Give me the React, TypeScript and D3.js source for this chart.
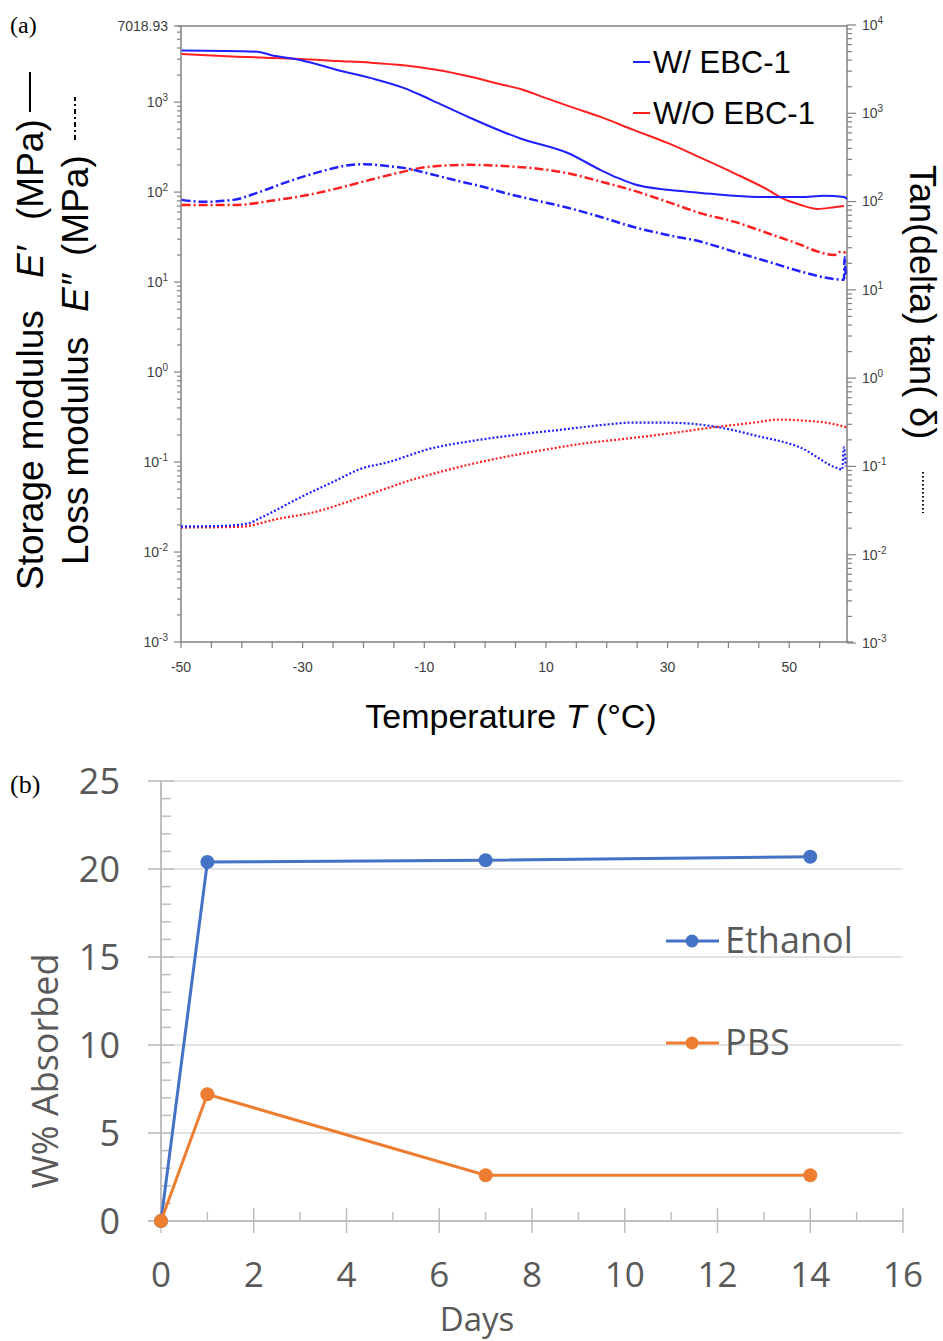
import React from 'react'
import * as d3 from 'd3'

// (a) DMA temperature sweep
// storage modulus E' (MPa)
const storageWithT = [-49.9, -37.5, -35.3, -29.9, -24.3, -18.9, -13.4, -10.6, -7.8, -2.4, 3.0, 5.8, 13.6, 19.0, 21.8, 24.4, 30.0, 35.5, 40.9, 46.5, 51.9, 55.7, 59.0, 59.5]
const storageWith = [3740, 3640, 3350, 2890, 2280, 1860, 1440, 1200, 980, 667, 466, 395, 272, 176, 144, 123, 106, 98, 91, 88, 88, 91, 88, 84]
const storageWithoutT = [-49.9, -40.8, -35.3, -30.4, -24.3, -18.9, -13.4, -7.8, -2.4, 3.0, 5.8, 9.9, 14.1, 19.0, 24.4, 30.0, 35.5, 40.9, 46.5, 49.1, 51.9, 54.7, 57.4, 59.0]
const storageWithout = [3435, 3205, 3100, 3020, 2870, 2750, 2570, 2280, 1920, 1552, 1402, 1114, 885, 685, 491, 352, 240, 163, 106, 84, 72, 65, 68, 70]

// loss modulus E'' (MPa)
const lossWithT = [-49.9, -46.3, -41.4, -37.5, -32.5, -27.1, -23.3, -20.0, -16.1, -13.4, -9.0, -5.2, 0.4, 2.5, 8.0, 13.6, 19.0, 24.4, 30.0, 35.5, 40.9, 46.5, 51.9, 57.4, 59.0, 59.1, 59.3]
const lossWith = [82, 78, 82, 98, 130, 169, 195, 204, 195, 186, 159, 137, 111, 101, 82, 67, 53, 41, 33.4, 28.1, 21.8, 16.9, 13.1, 10.8, 10.6, 19, 11]
const lossWithoutT = [-49.9, -40.8, -35.3, -29.9, -24.3, -18.9, -13.4, -10.6, -7.8, -2.4, 3.0, 8.0, 13.6, 19.0, 24.4, 30.0, 35.5, 40.9, 46.5, 51.9, 54.7, 57.4, 58.5, 59.3]
const lossWithout = [72, 72, 80, 91, 110, 137, 169, 186, 195, 201, 195, 184, 162, 131, 104, 78, 58, 47, 34.9, 25.9, 21.8, 20.0, 21.8, 21.1]

// tan(delta), right axis
const tanWithT = [-50, -43.2, -39.0, -36.8, -30.4, -24.6, -20.4, -16.1, -9.0, -1.8, 5.3, 12.6, 19.7, 23.9, 29.5, 33.8, 39.6, 44.5, 51.8, 58.0, 58.7, 59.0, 59.3]
const tanWith = [0.0209, 0.0212, 0.0226, 0.0264, 0.0445, 0.0689, 0.0942, 0.111, 0.159, 0.196, 0.229, 0.261, 0.297, 0.313, 0.313, 0.305, 0.268, 0.223, 0.164, 0.095, 0.092, 0.165, 0.1]
const tanWithoutT = [-50, -40.4, -34.0, -28.3, -19.7, -12.5, -5.4, 1.7, 9.0, 16.0, 23.1, 30.4, 37.4, 44.5, 48.1, 52.4, 56.7, 59.5]
const tanWithout = [0.0203, 0.0207, 0.0255, 0.0301, 0.0466, 0.0689, 0.0942, 0.122, 0.151, 0.181, 0.206, 0.237, 0.277, 0.315, 0.339, 0.330, 0.308, 0.277]

const tempLabels = [-50, -30, -10, 10, 30, 50]

// (b) solvent uptake
const days = [0, 1, 7, 14]
const ethanol = [0, 20.4, 20.5, 20.7]
const pbs = [0, 7.2, 2.6, 2.6]

const BLUE = '#1f1fff'
const RED = '#ff1f1f'
const ARIAL = '"Liberation Sans", Arial, sans-serif'
const SOFT = '"Open Sans", sans-serif'

const zip = (t: number[], v: number[]) => t.map((d, i) => [d, v[i]] as [number, number])

function Pow({ x, y, exp, anchor }: { x: number; y: number; exp: number; anchor: string }) {
  return (
    <text x={x} y={y} dy="0.35em" textAnchor={anchor} fontSize={14} fill="#404040" fontFamily={ARIAL}>
      10<tspan dy={-6} fontSize={10}>{exp}</tspan>
    </text>
  )
}

export default function App() {
  // --- panel (a) scales
  const xA = d3.scaleLinear().domain([-50, 59.5]).range([181, 847])
  const yL = d3.scaleLog().domain([1e-3, 7018.93]).range([642, 26])
  const yR = d3.scaleLog().domain([1e-3, 1e4]).range([643, 25])

  const lineL = d3.line<[number, number]>().x(d => xA(d[0])).y(d => yL(d[1])).curve(d3.curveMonotoneX)
  const lineR = d3.line<[number, number]>().x(d => xA(d[0])).y(d => yR(d[1])).curve(d3.curveMonotoneX)

  const leftTicks: number[] = []
  const rightTicks: number[] = []
  for (let k = -3; k <= 3; k++) {
    for (let m = 1; m <= 9; m++) {
      const v = m * Math.pow(10, k)
      if (v <= 7018.93) leftTicks.push(v)
      rightTicks.push(v)
    }
  }
  rightTicks.push(1e4)
  const isDecade = (v: number) => Math.abs(Math.log10(v) - Math.round(Math.log10(v))) < 1e-9

  // --- panel (b) scales
  const xB = d3.scaleLinear().domain([0, 16]).range([161, 903])
  const yB = d3.scaleLinear().domain([0, 25]).range([1221, 781])
  const lineB = d3.line<[number, number]>().x(d => xB(d[0])).y(d => yB(d[1]))

  const axisGray = '#808080'

  return (
    <svg width={943} height={1341} style={{ position: 'absolute', left: 0, top: 0, background: 'white' }}>
      {/* ================= (a) ================= */}
      <text x={10} y={33} fontSize={24} fontFamily='"Liberation Serif", "Times New Roman", serif'>(a)</text>

      {/* frame */}
      <line x1={181} x2={847} y1={26} y2={26} stroke={axisGray} strokeWidth={1.5} />
      <line x1={181} x2={181} y1={26} y2={642} stroke={axisGray} strokeWidth={1.5} />
      <line x1={847} x2={847} y1={25} y2={643} stroke={axisGray} strokeWidth={1.5} />
      <line x1={181} x2={853} y1={642} y2={642} stroke={axisGray} strokeWidth={1.5} />

      {/* left log ticks */}
      {leftTicks.map(v => (
        <line key={'lt' + v} x1={181 - (isDecade(v) ? 7 : 4)} x2={181} y1={yL(v)} y2={yL(v)} stroke={axisGray} strokeWidth={1.2} />
      ))}
      <line x1={174} x2={181} y1={yL(7018.93)} y2={yL(7018.93)} stroke={axisGray} strokeWidth={1.2} />
      {d3.range(-3, 4).map(k => (
        <Pow key={'lp' + k} x={168} y={yL(Math.pow(10, k))} exp={k} anchor="end" />
      ))}
      <text x={168} y={yL(7018.93)} dy="0.35em" textAnchor="end" fontSize={14} fill="#404040" fontFamily={ARIAL}>7018.93</text>

      {/* right log ticks */}
      {rightTicks.map(v => (
        <line key={'rt' + v} x1={847} x2={847 + (isDecade(v) ? 9 : 5)} y1={yR(v)} y2={yR(v)} stroke={axisGray} strokeWidth={1.2} />
      ))}
      {d3.range(-3, 5).map(k => (
        <Pow key={'rp' + k} x={862} y={yR(Math.pow(10, k))} exp={k} anchor="start" />
      ))}

      {/* x ticks */}
      {d3.range(-50, 60, 5).map(t => (
        <line key={'xt' + t} x1={xA(t)} x2={xA(t)} y1={642} y2={648} stroke={axisGray} strokeWidth={1.2} />
      ))}
      {tempLabels.map(t => (
        <text key={'xl' + t} x={xA(t)} y={672} textAnchor="middle" fontSize={14} fill="#404040" fontFamily={ARIAL}>{t}</text>
      ))}

      {/* curves */}
      <g fill="none">
        <path d={lineL(zip(storageWithoutT, storageWithout)) || ''} stroke={RED} strokeWidth={2} />
        <path d={lineL(zip(storageWithT, storageWith)) || ''} stroke={BLUE} strokeWidth={2} />
        <path d={lineL(zip(lossWithoutT, lossWithout)) || ''} stroke={RED} strokeWidth={2.5} strokeDasharray="9,3,2,3" />
        <path d={lineL(zip(lossWithT, lossWith)) || ''} stroke={BLUE} strokeWidth={2.5} strokeDasharray="9,3,2,3" />
        <path d={lineR(zip(tanWithoutT, tanWithout)) || ''} stroke={RED} strokeWidth={2.2} strokeDasharray="2,2" />
        <path d={lineR(zip(tanWithT, tanWith)) || ''} stroke={BLUE} strokeWidth={2.2} strokeDasharray="2,2" />
      </g>

      {/* legend (a) */}
      <line x1={633} x2={650} y1={62} y2={62} stroke={BLUE} strokeWidth={2} />
      <text x={653} y={73} fontSize={31} fontFamily={ARIAL}>W/ EBC-1</text>
      <line x1={633} x2={650} y1={113} y2={113} stroke={RED} strokeWidth={2} />
      <text x={653} y={124} fontSize={31} fontFamily={ARIAL}>W/O EBC-1</text>

      {/* axis titles (a) */}
      <g transform="translate(43,0) rotate(-90)" fontFamily={ARIAL} fontSize={37}>
        <text x={-590} y={0}>Storage modulus</text>
        <text x={-278} y={0} fontStyle="italic">E′</text>
        <text x={-220} y={0}>(MPa)</text>
        <line x1={-112} x2={-72} y1={-13} y2={-13} stroke="black" strokeWidth={2} />
      </g>
      <g transform="translate(88,0) rotate(-90)" fontFamily={ARIAL} fontSize={37}>
        <text x={-565} y={0}>Loss modulus</text>
        <text x={-312} y={0} fontStyle="italic">E″</text>
        <text x={-256} y={0}>(MPa)</text>
        <line x1={-140} x2={-97} y1={-13} y2={-13} stroke="black" strokeWidth={2} strokeDasharray="5,3,2,3" />
      </g>
      <g transform="translate(910,0) rotate(90)" fontFamily={ARIAL} fontSize={36}>
        <text x={165} y={0}>Tan(delta) tan( δ)</text>
        <line x1={472} x2={513} y1={-13} y2={-13} stroke="black" strokeWidth={2} strokeDasharray="1.5,2.5" />
      </g>
      <text x={511} y={728} textAnchor="middle" fontSize={34} fontFamily={ARIAL}>
        Temperature <tspan fontStyle="italic">T</tspan> (°C)
      </text>

      {/* ================= (b) ================= */}
      <text x={10} y={793} fontSize={26} fontFamily='"Liberation Serif", "Times New Roman", serif'>(b)</text>

      {d3.range(5, 26, 5).map(v => (
        <line key={'g' + v} x1={148} x2={903} y1={yB(v)} y2={yB(v)} stroke="#d9d9d9" strokeWidth={1.5} />
      ))}
      <line x1={161} x2={161} y1={781} y2={1221} stroke="#bfbfbf" strokeWidth={2} />
      {d3.range(0, 26).map(v => (
        <line key={'yt' + v} x1={v % 5 === 0 ? 148 : 161} x2={v % 5 === 0 ? 174 : 171} y1={yB(v)} y2={yB(v)} stroke="#bfbfbf" strokeWidth={1.5} />
      ))}
      <line x1={148} x2={903} y1={1221} y2={1221} stroke="#bfbfbf" strokeWidth={2} />
      {d3.range(0, 17).map(d => (
        <line key={'xbt' + d} x1={xB(d)} x2={xB(d)} y1={d % 2 === 0 ? 1208 : 1212} y2={d % 2 === 0 ? 1233 : 1221} stroke="#bfbfbf" strokeWidth={1.5} />
      ))}

      {d3.range(0, 26, 5).map(v => (
        <text key={'yl' + v} x={120} y={yB(v)} dy="0.36em" textAnchor="end" fontSize={36} fill="#595959" fontFamily={SOFT}>{v}</text>
      ))}
      {d3.range(0, 17, 2).map(d => (
        <text key={'xbl' + d} x={xB(d)} y={1287} textAnchor="middle" fontSize={35} fill="#595959" fontFamily={SOFT}>{d}</text>
      ))}
      <text x={477} y={1331} textAnchor="middle" fontSize={33} fill="#595959" fontFamily={SOFT}>Days</text>
      <text transform="translate(58,1071) rotate(-90)" textAnchor="middle" fontSize={36} fill="#595959" fontFamily={SOFT}>W% Absorbed</text>

      <path d={lineB(zip(days, ethanol)) || ''} fill="none" stroke="#4472C4" strokeWidth={3} />
      {days.map((d, i) => (
        <circle key={'ec' + d} cx={xB(d)} cy={yB(ethanol[i])} r={7} fill="#4472C4" />
      ))}
      <path d={lineB(zip(days, pbs)) || ''} fill="none" stroke="#ED7D31" strokeWidth={3} />
      {days.map((d, i) => (
        <circle key={'pc' + d} cx={xB(d)} cy={yB(pbs[i])} r={7} fill="#ED7D31" />
      ))}

      {/* legend (b) */}
      <line x1={666} x2={719} y1={941} y2={941} stroke="#4472C4" strokeWidth={3} />
      <circle cx={692} cy={941} r={6.5} fill="#4472C4" />
      <text x={725} y={953} fontSize={36} fill="#595959" fontFamily={SOFT}>Ethanol</text>
      <line x1={666} x2={719} y1={1043} y2={1043} stroke="#ED7D31" strokeWidth={3} />
      <circle cx={692} cy={1043} r={6.5} fill="#ED7D31" />
      <text x={725} y={1055} fontSize={36} fill="#595959" fontFamily={SOFT}>PBS</text>
    </svg>
  )
}
